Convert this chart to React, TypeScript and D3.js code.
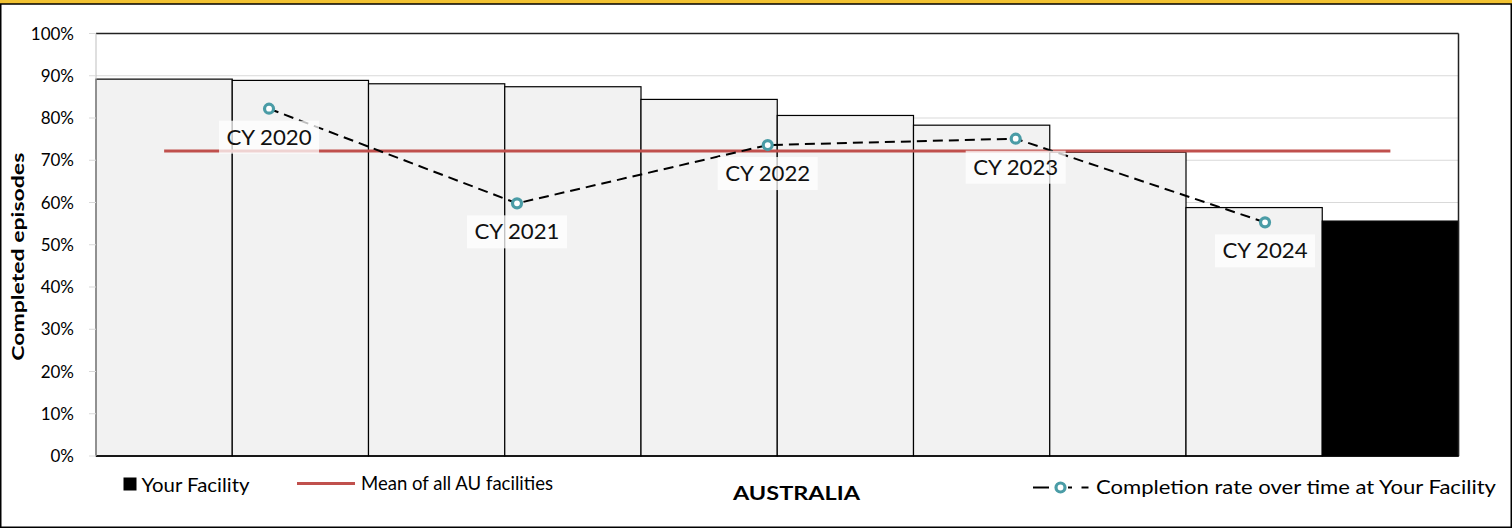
import React from "react";
import * as d3 from "d3";

// ---- data ----
const categories = [
  "Facility 1", "Facility 2", "Facility 3", "Facility 4", "Facility 5",
  "Facility 6", "Facility 7", "Facility 8", "Facility 9", "Your Facility",
];
const completionRates = [0.892, 0.889, 0.881, 0.874, 0.844, 0.806, 0.783, 0.719, 0.588, 0.556];
const highlightCategory = "Your Facility";
const meanAllFacilities = 0.722;

const trendYears = ["CY 2020", "CY 2021", "CY 2022", "CY 2023", "CY 2024"];
const trendValues = [0.822, 0.598, 0.736, 0.751, 0.553];
// position of each trend point along the category axis (in category units)
const trendPositions = [1.27, 3.09, 4.93, 6.75, 8.58];

const yTicks = [0, 0.1, 0.2, 0.3, 0.4, 0.5, 0.6, 0.7, 0.8, 0.9, 1.0];

const yAxisTitle = "Completed episodes";
const xAxisTitle = "AUSTRALIA";
const legendFacility = "Your Facility";
const legendMean = "Mean of all AU facilities";
const legendTrend = "Completion rate over time at Your Facility";

const FONT = "Lato, 'Open Sans', sans-serif";
const TEAL = "#4A9CA6";
const RED = "#C0504D";

export default function App() {
  const W = 1512, H = 528;
  const left = 96, right = 1458.5, top = 33.5, bottom = 456;

  const x = d3.scaleBand<string>().domain(categories).range([left, right]).paddingInner(0).paddingOuter(0);
  const xPos = d3.scaleLinear().domain([0, categories.length]).range([left, right]);
  const y = d3.scaleLinear().domain([0, 1]).range([bottom, top]);
  const fmt = d3.format(".0%");
  const bw = x.bandwidth();

  const trendPts = trendValues.map((v, i) => [xPos(trendPositions[i]), y(v)] as [number, number]);
  const linePath = d3.line()(trendPts) || "";

  const meanX1 = (x(categories[0]) as number) + bw / 2;
  const meanX2 = (x(categories[categories.length - 1]) as number) + bw / 2;

  return (
    <svg width={W} height={H} style={{ position: "absolute", left: 0, top: 0, background: "#fff" }} fontFamily={FONT}>
      {/* title strip & frame */}
      <rect x={0} y={0} width={W} height={4} fill="#F2C232" />
      <rect x={0.75} y={4} width={W - 1.5} height={H - 4.75} fill="none" stroke="#000" strokeWidth={1.5} />

      {/* gridlines */}
      {yTicks.map((t) => (
        <line key={"g" + t} x1={left} x2={right} y1={y(t)} y2={y(t)} stroke="#D9D9D9" strokeWidth={1} />
      ))}

      {/* bars */}
      {categories.map((c, i) => {
        const isMe = c === highlightCategory;
        return (
          <rect
            key={c}
            x={x(c) as number}
            y={y(completionRates[i])}
            width={bw}
            height={bottom - y(completionRates[i])}
            fill={isMe ? "#000" : "#F2F2F2"}
            stroke="#000"
            strokeWidth={1.2}
          />
        );
      })}

      {/* plot border */}
      <line x1={left} x2={right} y1={top} y2={top} stroke="#222" strokeWidth={1.5} />
      <line x1={right} x2={right} y1={top} y2={bottom} stroke="#222" strokeWidth={1.5} />
      <line x1={left} x2={right} y1={bottom} y2={bottom} stroke="#000" strokeWidth={1.5} />
      <line x1={left} x2={left} y1={top} y2={bottom} stroke="#BFBFBF" strokeWidth={1} />

      {/* y ticks & labels */}
      {yTicks.map((t) => (
        <g key={"t" + t}>
          <line x1={left - 7} x2={left} y1={y(t)} y2={y(t)} stroke="#D9D9D9" strokeWidth={1} />
          <text x={74} y={y(t) + 6} textAnchor="end" fontSize={17} fill="#000">{fmt(t)}</text>
        </g>
      ))}

      {/* y axis title */}
      <text
        transform={`translate(24, ${(top + bottom) / 2 + 12}) rotate(-90)`}
        textAnchor="middle"
        fontSize={17}
        fontWeight="bold"
        textLength={208}
        lengthAdjust="spacingAndGlyphs"
        fill="#000"
      >
        {yAxisTitle}
      </text>

      {/* mean line */}
      <line x1={meanX1} x2={meanX2} y1={y(meanAllFacilities)} y2={y(meanAllFacilities)} stroke={RED} strokeWidth={3} />

      {/* trend line */}
      <path d={linePath} fill="none" stroke="#000" strokeWidth={2} strokeDasharray="10,6" />

      {/* trend labels */}
      {trendPts.map(([px, py], i) => (
        <g key={"l" + i}>
          <rect x={px - 50} y={py + 12} width={100} height={33} fill="#fff" fillOpacity={0.75} />
          <text x={px} y={py + 36} textAnchor="middle" fontSize={21} fill="#111" textLength={85} lengthAdjust="spacingAndGlyphs">
            {trendYears[i]}
          </text>
        </g>
      ))}

      {/* trend markers */}
      {trendPts.map(([px, py], i) => (
        <circle key={"m" + i} cx={px} cy={py} r={4.5} fill="#fff" stroke={TEAL} strokeWidth={3.2} />
      ))}

      {/* legend */}
      <rect x={123.5} y={477.5} width={13} height={13} fill="#000" />
      <text x={141.5} y={492} fontSize={20} textLength={108} lengthAdjust="spacingAndGlyphs" fill="#000">{legendFacility}</text>

      <line x1={297} x2={355} y1={483.5} y2={483.5} stroke={RED} strokeWidth={3} />
      <text x={361} y={489.5} fontSize={19} textLength={192} lengthAdjust="spacingAndGlyphs" fill="#000">{legendMean}</text>

      <text x={796.5} y={500} textAnchor="middle" fontSize={18} fontWeight="bold" textLength={127} lengthAdjust="spacingAndGlyphs" fill="#000">{xAxisTitle}</text>

      <line x1={1033} x2={1049} y1={487.5} y2={487.5} stroke="#000" strokeWidth={2} />
      <circle cx={1060.5} cy={487.5} r={4.5} fill="#fff" stroke={TEAL} strokeWidth={3.2} />
      <line x1={1068} x2={1072} y1={487.5} y2={487.5} stroke="#000" strokeWidth={2} />
      <line x1={1081.5} x2={1088.5} y1={487.5} y2={487.5} stroke="#000" strokeWidth={2} />
      <text x={1096} y={494} fontSize={19} textLength={400} lengthAdjust="spacingAndGlyphs" fill="#000">{legendTrend}</text>
    </svg>
  );
}
